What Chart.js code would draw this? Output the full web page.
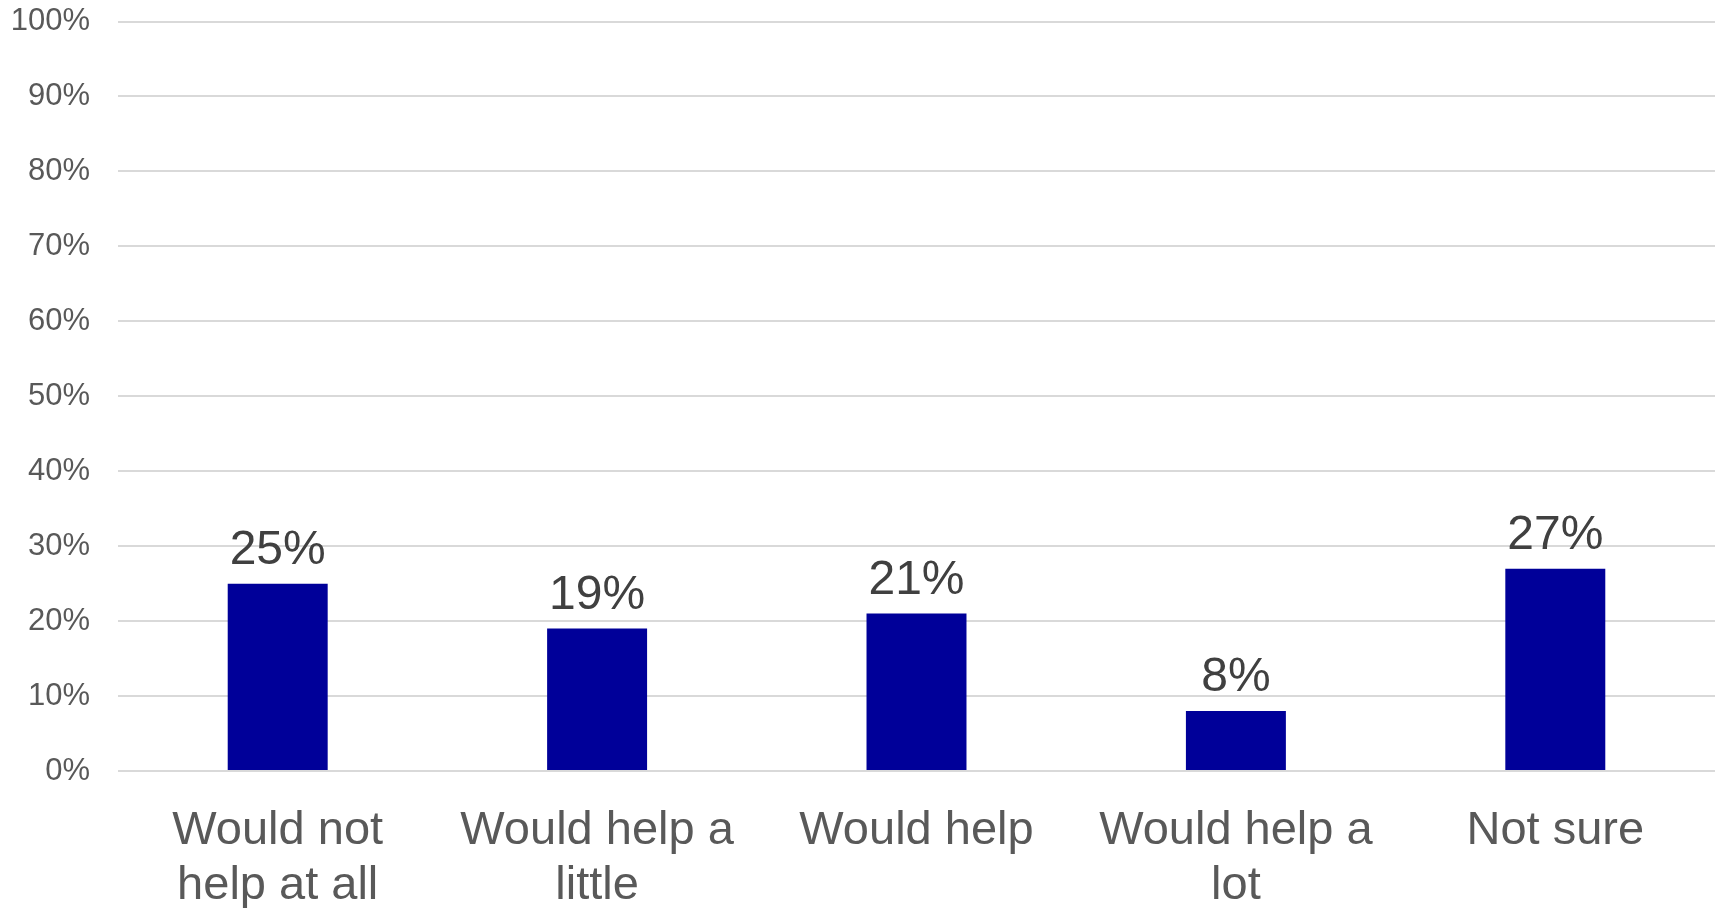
<!DOCTYPE html>
<html>
<head>
<meta charset="utf-8">
<script src="https://cdn.jsdelivr.net/npm/chart.js@4.4.0/dist/chart.umd.min.js"></script>
<style>
  html, body { margin: 0; padding: 0; background: #ffffff; }
  #wrap { width: 1725px; height: 908px; }
</style>
</head>
<body>
<div id="wrap"><canvas id="c" width="1725" height="908"></canvas></div>
<script>
const categories = [
  ["Would not", "help at all"],
  ["Would help a", "little"],
  ["Would help"],
  ["Would help a", "lot"],
  ["Not sure"]
];
const values = [25, 19, 21, 8, 27];
const yTicks = [0, 10, 20, 30, 40, 50, 60, 70, 80, 90, 100];

const FONT = "'Liberation Sans', Arial, sans-serif";

const dataLabels = {
  id: 'dataLabels',
  afterDatasetsDraw(chart) {
    const ctx = chart.ctx;
    const meta = chart.getDatasetMeta(0);
    ctx.save();
    ctx.font = "48px " + FONT;
    ctx.fillStyle = "#404040";
    ctx.textAlign = "center";
    ctx.textBaseline = "alphabetic";
    meta.data.forEach((bar, i) => {
      ctx.fillText(values[i] + "%", bar.x, bar.y - 20);
    });
    ctx.restore();
  }
};

new Chart(document.getElementById('c'), {
  type: 'bar',
  data: {
    labels: categories,
    datasets: [{
      data: values,
      backgroundColor: '#000099',
      borderWidth: 0,
      categoryPercentage: 1.0,
      barPercentage: 0.313
    }]
  },
  options: {
    responsive: false,
    animation: false,
    devicePixelRatio: 1,
    layout: { padding: { top: 21.5, right: 10, left: 0, bottom: 0 } },
    plugins: {
      legend: { display: false },
      tooltip: { enabled: false }
    },
    scales: {
      x: {
        grid: { display: false, drawTicks: false },
        border: { display: false },
        ticks: {
          color: '#595959',
          font: { family: FONT, size: 47, lineHeight: 1.17 },
          padding: 33,
          maxRotation: 0,
          autoSkip: false
        },
        afterFit(scale) { scale.height = 137; scale.paddingLeft = 0; scale.paddingRight = 0; }
      },
      y: {
        min: 0,
        max: 100,
        afterBuildTicks(scale) { scale.ticks = yTicks.map(v => ({ value: v })); },
        grid: { color: '#d9d9d9', lineWidth: 2, drawTicks: false },
        border: { display: false },
        ticks: {
          color: '#595959',
          font: { family: FONT, size: 31 },
          padding: 28,
          callback: v => v + '%'
        },
        afterFit(scale) { scale.width = 118; scale.paddingTop = 0; scale.paddingBottom = 0; }
      }
    }
  },
  plugins: [dataLabels]
});
</script>
</body>
</html>
